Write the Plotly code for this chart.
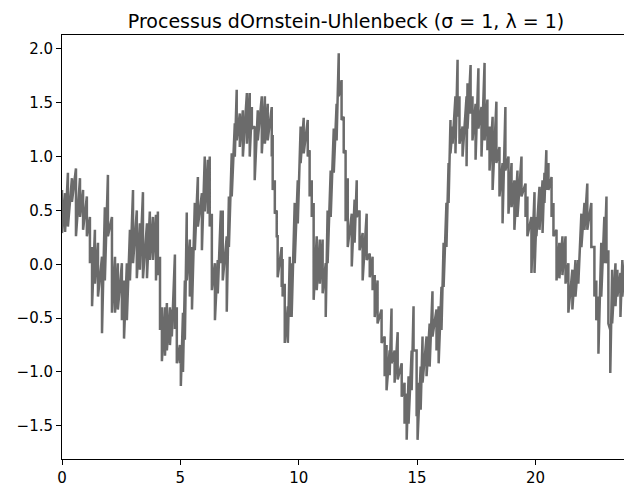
import plotly.graph_objects as go

# sample times and the upper / lower extent of the noisy path at each time
t = [0.00, 0.13, 0.25, 0.42, 0.59, 0.76, 0.89, 1.05, 1.18, 1.27, 1.39, 1.52, 1.69, 1.81, 1.94,
     2.11, 2.24, 2.36, 2.53, 2.62, 2.74, 2.87, 3.00, 3.16, 3.29, 3.42, 3.59, 3.71, 3.84, 3.97,
     4.05, 4.14, 4.22, 4.35, 4.43, 4.56, 4.64, 4.77, 4.85, 4.98, 5.02, 5.11, 5.19, 5.27, 5.40,
     5.49, 5.61, 5.74, 5.91, 6.03, 6.16, 6.24, 6.33, 6.46, 6.58, 6.71, 6.79, 6.96, 7.05, 7.17,
     7.30, 7.38, 7.51, 7.64, 7.81, 7.93, 8.02, 8.14, 8.27, 8.44, 8.57, 8.69, 8.86, 8.90, 8.99,
     9.07, 9.11, 9.28, 9.32, 9.41, 9.54, 9.62, 9.70, 9.83, 9.96, 10.08, 10.21, 10.38, 10.46, 10.55,
     10.63, 10.76, 10.89, 11.01, 11.14, 11.22, 11.35, 11.48, 11.60, 11.69, 11.81, 11.90, 11.98, 12.07, 12.24,
     12.36, 12.45, 12.57, 12.70, 12.87, 13.00, 13.12, 13.21, 13.33, 13.50, 13.63, 13.71, 13.84, 13.92, 14.05,
     14.18, 14.35, 14.47, 14.56, 14.64, 14.77, 14.85, 14.98, 15.02, 15.15, 15.23, 15.40, 15.53, 15.65, 15.82,
     15.91, 16.03, 16.12, 16.24, 16.33, 16.41, 16.50, 16.62, 16.71, 16.79, 16.92, 17.09, 17.13, 17.26, 17.34,
     17.47, 17.59, 17.72, 17.85, 17.97, 18.06, 18.19, 18.35, 18.48, 18.61, 18.73, 18.86, 18.99, 19.11, 19.24,
     19.41, 19.58, 19.66, 19.83, 19.96, 20.04, 20.17, 20.30, 20.38, 20.46, 20.55, 20.68, 20.76, 20.89, 21.01,
     21.14, 21.27, 21.39, 21.56, 21.69, 21.81, 21.94, 22.07, 22.19, 22.36, 22.49, 22.57, 22.66, 22.78, 22.91,
     23.00, 23.08, 23.16, 23.24, 23.38, 23.46, 23.59, 23.67, 23.80]

x_high = [0.69, 0.66, 0.85, 0.80, 0.89, 0.80, 0.69, 0.63, 0.44, 0.16, 0.32, 0.20, 0.07, 0.53, 0.83,
          0.44, 0.07, 0.01, 0.01, -0.15, 0.01, 0.32, 0.69, 0.50, 0.38, 0.67, 0.38, 0.49, 0.44, 0.46,
          0.49, 0.07, -0.40, -0.40, -0.36, -0.40, -0.42, 0.09, -0.40, -0.75, -0.80, -0.45, -0.15, 0.48, 0.23,
          0.16, 0.57, 0.81, 0.66, 1.00, 0.97, 1.00, 0.47, 0.01, 0.04, 0.50, 0.50, 0.26, 0.63, 1.03,
          1.31, 1.62, 1.40, 1.43, 1.59, 1.59, 1.46, 1.28, 1.43, 1.56, 1.56, 1.49, 1.46, 1.20, 0.78,
          0.50, 0.26, 0.16, 0.05, -0.18, -0.39, 0.07, 0.01, 0.57, 0.78, 1.28, 1.36, 1.34, 1.06, 0.78,
          0.57, 0.26, 0.23, 0.23, 0.01, 0.50, 0.87, 1.26, 1.49, 1.96, 1.71, 1.37, 1.06, 0.80, 0.47,
          0.60, 0.78, 0.50, 0.29, 0.47, 0.10, 0.07, -0.10, -0.15, -0.42, -0.67, -0.75, -0.80, -0.41, -0.80,
          -0.63, -0.92, -1.10, -1.20, -1.04, -0.80, -0.39, -0.80, -1.10, -0.95, -0.67, -0.67, -0.55, -0.25, -0.42,
          -0.39, -0.21, 0.20, 0.57, 0.94, 1.34, 1.28, 1.56, 1.90, 1.56, 1.28, 1.56, 1.68, 1.85, 1.56,
          1.49, 1.82, 1.46, 1.87, 1.53, 1.28, 1.37, 1.51, 1.09, 0.94, 1.46, 1.00, 0.94, 0.78, 0.87,
          1.00, 0.75, 0.63, 0.44, 0.67, 0.44, 0.72, 0.78, 0.85, 1.06, 0.94, 0.81, 0.57, 0.32, 0.20,
          0.26, 0.26, 0.01, -0.05, 0.04, 0.04, 0.47, 0.57, 0.75, 0.57, 0.16, -0.15, -0.30, 0.20, 0.44,
          0.63, 0.13, -0.61, -0.05, 0.01, -0.05, -0.08, 0.04, 0.05]

x_low = [0.29, 0.30, 0.35, 0.58, 0.26, 0.44, 0.32, 0.26, 0.01, -0.39, -0.18, -0.30, -0.64, -0.15, 0.26,
         -0.45, -0.45, -0.42, -0.52, -0.69, -0.52, -0.15, 0.01, -0.13, -0.05, -0.13, -0.13, 0.04, 0.04, -0.15,
         -0.10, -0.61, -0.90, -0.85, -0.80, -0.75, -0.67, -0.60, -0.92, -0.92, -1.13, -1.00, -0.70, -0.15, -0.30,
         -0.42, 0.13, 0.35, 0.13, 0.49, 0.47, 0.35, -0.24, -0.52, -0.27, 0.01, -0.15, -0.44, 0.16, 0.63,
         1.00, 1.15, 1.09, 1.00, 1.12, 1.00, 1.26, 0.78, 1.15, 1.03, 1.12, 1.15, 1.00, 0.69, 0.47,
         0.26, -0.12, -0.21, -0.30, -0.73, -0.73, -0.49, -0.49, 0.01, 0.38, 0.94, 1.03, 1.00, 0.63, 0.44,
         -0.33, -0.24, -0.18, -0.27, -0.49, 0.01, 0.44, 0.85, 1.15, 1.56, 1.34, 1.03, 0.40, 0.16, -0.02,
         0.20, 0.44, 0.13, -0.15, 0.04, -0.12, -0.24, -0.49, -0.55, -0.73, -1.04, -1.17, -1.03, -0.92, -1.10,
         -1.07, -1.23, -1.48, -1.63, -1.48, -1.17, -0.80, -1.41, -1.63, -1.35, -1.10, -1.04, -0.95, -0.67, -0.80,
         -0.92, -0.61, -0.21, 0.16, 0.57, 1.03, 1.12, 1.03, 1.37, 1.12, 1.00, 0.91, 1.26, 1.40, 1.15,
         0.97, 1.26, 1.00, 1.15, 1.06, 0.87, 0.69, 0.94, 0.63, 0.38, 0.87, 0.47, 0.53, 0.32, 0.44,
         0.63, 0.44, 0.26, -0.08, -0.08, 0.26, 0.32, 0.29, 0.57, 0.69, 0.69, 0.44, 0.26, -0.15, -0.13,
         -0.10, -0.18, -0.45, -0.42, -0.30, -0.18, 0.16, 0.32, 0.32, 0.16, -0.30, -0.52, -0.83, -0.30, 0.01,
         0.01, -0.55, -1.01, -0.55, -0.39, -0.30, -0.49, -0.30, -0.35]

x_ticks = [0, 5, 10, 15, 20]
y_ticks = [-1.5, -1.0, -0.5, 0.0, 0.5, 1.0, 1.5, 2.0]
title_text = "Processus dOrnstein-Uhlenbeck (σ = 1, λ = 1)"

# path alternates between the upper and lower extent at each sample time
px, py = [], []
for ti, hi, lo in zip(t, x_high, x_low):
    px += [ti, ti]
    py += [hi, lo]

fig = go.Figure(go.Scatter(x=px, y=py, mode="lines",
                           line=dict(color="#6b6b6b", width=2.5), hoverinfo="skip"))

W, H = 624, 488
axis_font = dict(family="DejaVu Sans", size=15, color="black")
fig.update_layout(
    width=W, height=H,
    margin=dict(l=62, r=0, t=35, b=29),
    paper_bgcolor="white", plot_bgcolor="white",
    showlegend=False,
    title=dict(text=title_text, font=dict(family="DejaVu Sans", size=19, color="black"),
               x=346 / W, xref="container", xanchor="center",
               y=1 - 21 / H, yref="container", yanchor="middle"),
    xaxis=dict(range=[0, 23.74], tickvals=x_ticks, showgrid=False, zeroline=False,
               showline=True, linecolor="black", linewidth=1, mirror=True,
               ticks="outside", ticklen=5, tickwidth=1, tickcolor="black",
               tickfont=axis_font),
    yaxis=dict(range=[-1.808, 2.129], tickvals=y_ticks, tickformat=".1f",
               showgrid=False, zeroline=False,
               showline=True, linecolor="black", linewidth=1,
               ticks="outside", ticklen=5, tickwidth=1, tickcolor="black",
               tickfont=axis_font),
)

# remove the default page margin so the figure fills the window exactly
fig.write_html("out.html", config={"displayModeBar": False},
               post_script="document.body.style.margin='0';document.body.style.overflow='hidden';")
